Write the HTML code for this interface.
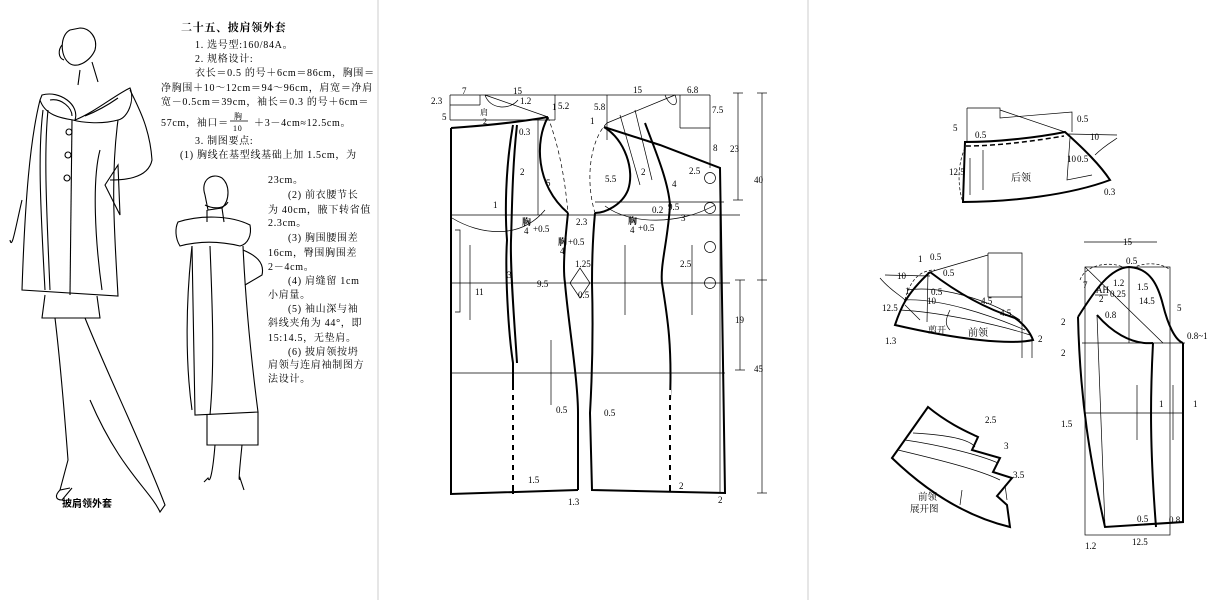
<!DOCTYPE html>
<html><head><meta charset="utf-8"><style>
html,body{margin:0;padding:0;background:#fff;}
svg{display:block}
text{font-family:"Liberation Serif","Noto Serif CJK SC","Noto Sans CJK SC",serif;fill:#000}
.s{font-size:9px}
.t{font-size:10px}
</style></head><body>
<svg width="1230" height="600" viewBox="0 0 1230 600" xmlns="http://www.w3.org/2000/svg">
<rect width="1230" height="600" fill="#fff"/>
<line x1="378" y1="0" x2="378" y2="600" stroke="#ccc" stroke-width="1"/>
<line x1="808" y1="0" x2="808" y2="600" stroke="#ccc" stroke-width="1"/>

<!-- Front figure -->
<g fill="none" stroke="#000" stroke-width="1.1">
<path d="M70,30 C60,35 60,55 68,62 C75,70 90,62 95,50 C98,38 90,28 80,28 Z"/>
<path d="M62,45 C58,50 58,58 64,60"/>
<path d="M80,70 L78,85 M92,62 L98,82"/>
<path d="M42,95 C60,90 80,105 75,120 C95,112 115,95 130,88 C135,100 128,118 118,120 C100,125 80,122 73,120 C60,118 45,115 40,100 Z"/>
<path d="M50,100 C62,98 72,108 72,116 M118,98 C108,105 95,112 85,116"/>
<path d="M40,100 C30,140 25,200 22,290 L118,296 C115,240 110,180 118,120"/>
<path d="M72,120 L70,295"/>
<circle cx="69" cy="132" r="3"/><circle cx="68" cy="155" r="3"/><circle cx="67" cy="178" r="3"/>
<path d="M43,110 C38,150 40,200 45,290 M48,110 C44,150 46,200 50,290"/>
<path d="M100,150 C92,180 95,240 102,290"/>
<path d="M130,90 C140,110 150,130 152,160 C148,180 120,180 110,180"/>
<path d="M105,185 L120,215 L118,165 Z"/>
<path d="M22,200 C15,230 12,250 10,240"/>
<path d="M45,295 L42,318 L100,318 L97,296"/>
<path d="M55,318 C60,360 65,420 68,460 L60,490 L70,488 M85,318 C110,380 140,440 165,505 L160,512 C150,490 120,470 90,400"/>
<path d="M60,490 C55,495 55,500 62,500 L72,488"/>
</g>
<text x="62" y="507" class="t" font-weight="bold" style="font-family:'Noto Sans CJK SC',sans-serif">披肩领外套</text>

<!-- Back figure -->
<g fill="none" stroke="#000" stroke-width="1.1">
<path d="M205,195 C200,180 212,172 222,178 C230,185 230,200 222,208 L208,210 Z"/>
<path d="M205,205 C215,210 225,208 228,202 M207,210 L207,222 M222,208 L224,222"/>
<path d="M178,222 C200,215 230,215 250,225 C252,235 248,244 240,246 C215,240 195,242 180,246 C175,238 175,228 178,222 Z"/>
<path d="M192,246 L195,415 L258,412 C250,350 245,290 243,246"/>
<path d="M210,246 C212,300 215,360 210,415"/>
<path d="M243,250 C255,255 265,262 262,275 L245,285"/>
<path d="M192,246 C186,300 185,360 192,410"/>
<path d="M207,415 L207,445 L258,445 L258,412"/>
<path d="M215,445 C213,470 210,485 208,478 L204,482 M242,445 C240,465 238,485 240,478 L244,490"/>
</g>

<!-- Text block -->
<g style="font-family:'Liberation Serif','Noto Serif CJK SC',serif;letter-spacing:0.7px" font-size="10">
<text x="181" y="31" font-weight="bold" font-size="11">二十五、披肩领外套</text>
<text x="195" y="48">1. 选号型:160/84A。</text>
<text x="195" y="62">2. 规格设计:</text>
<text x="195" y="76">衣长＝0.5 的号＋6cm＝86cm，胸围＝</text>
<text x="161" y="91">净胸围＋10～12cm＝94～96cm，肩宽＝净肩</text>
<text x="161" y="105">宽－0.5cm＝39cm，袖长＝0.3 的号＋6cm＝</text>
<text x="161" y="126">57cm，袖口＝</text>
<text x="234" y="119" font-size="8">胸</text>
<line x1="230" y1="121" x2="248" y2="121" stroke="#000" stroke-width="0.7"/>
<text x="233" y="131" font-size="8">10</text>
<text x="254" y="126">＋3－4cm≈12.5cm。</text>
<text x="195" y="144">3. 制图要点:</text>
<text x="180" y="158">(1) 胸线在基型线基础上加 1.5cm，为</text>
<text x="268" y="183">23cm。</text>
<text x="288" y="198">(2) 前衣腰节长</text>
<text x="268" y="213">为 40cm，腋下转省值</text>
<text x="268" y="226">2.3cm。</text>
<text x="288" y="241">(3) 胸围腰围差</text>
<text x="268" y="256">16cm，臀围胸围差</text>
<text x="268" y="270">2－4cm。</text>
<text x="288" y="284">(4) 肩缝留 1cm</text>
<text x="268" y="298">小肩量。</text>
<text x="288" y="312">(5) 袖山深与袖</text>
<text x="268" y="326">斜线夹角为 44°，即</text>
<text x="268" y="341">15:14.5，无垫肩。</text>
<text x="288" y="355">(6) 披肩领按坍</text>
<text x="268" y="368">肩领与连肩袖制图方</text>
<text x="268" y="382">法设计。</text>
</g>

<!-- Middle panel: body draft -->
<g fill="none" stroke="#000" stroke-width="0.7">
<line x1="450" y1="95" x2="710" y2="95"/>
<line x1="710" y1="95" x2="710" y2="168"/>
<line x1="450" y1="95" x2="450" y2="120"/>
<line x1="450" y1="120" x2="555" y2="120"/>
<line x1="555" y1="95" x2="555" y2="120"/>
<line x1="450" y1="105" x2="480" y2="105"/><line x1="480" y1="95" x2="480" y2="105"/>
<path d="M485,95 L548,117 M485,95 C490,110 510,110 518,100"/>
<line x1="607" y1="95" x2="607" y2="140"/>
<line x1="680" y1="95" x2="680" y2="128"/><line x1="680" y1="128" x2="710" y2="128"/>
<path d="M607,123 L675,95 M665,95 C670,108 680,108 675,95"/>
<path d="M620,115 L640,185 M635,110 L652,180"/>
<line x1="451" y1="215" x2="740" y2="215"/>
<line x1="595" y1="202" x2="724" y2="202"/>
<line x1="451" y1="283" x2="730" y2="283"/>
<line x1="451" y1="373" x2="725" y2="373"/>
<line x1="538" y1="120" x2="538" y2="215"/>
<line x1="720" y1="168" x2="720" y2="492"/>
<line x1="738" y1="93" x2="738" y2="200"/><line x1="733" y1="93" x2="743" y2="93"/><line x1="733" y1="200" x2="743" y2="200"/>
<line x1="762" y1="93" x2="762" y2="493"/><line x1="757" y1="93" x2="767" y2="93"/><line x1="757" y1="493" x2="767" y2="493"/>
<line x1="740" y1="280" x2="740" y2="370"/><line x1="735" y1="280" x2="745" y2="280"/><line x1="735" y1="370" x2="745" y2="370"/>
<line x1="757" y1="280" x2="767" y2="280"/>
<path d="M455,230 L460,230 L460,312 L455,312" />
<line x1="470" y1="245" x2="470" y2="320"/>
<line x1="551" y1="340" x2="551" y2="405"/>
<line x1="625" y1="245" x2="625" y2="315"/>
<line x1="692" y1="245" x2="692" y2="315"/>
<path d="M452,218 C480,235 520,240 545,210" />
<path d="M605,206 C630,225 680,225 715,205"/>
<path d="M548,117 C560,150 565,180 568,213" stroke-dasharray="4,3"/>
<path d="M607,123 C590,140 585,180 595,213" stroke-dasharray="4,3"/>
<circle cx="710" cy="178" r="5.5"/><circle cx="710" cy="208" r="5.5"/><circle cx="710" cy="247" r="5.5"/><circle cx="710" cy="283" r="5.5"/>
<path d="M570,283 L580,268 L590,283 L580,298 Z"/>
</g>
<g fill="none" stroke="#000" stroke-width="2">
<path d="M451,128 C480,126 520,122 548,117"/>
<path d="M548,117 C535,140 535,185 568,213"/>
<path d="M451,128 L451,494 L578,490"/>
<path d="M568,213 C564,250 563,270 565,283 C568,320 578,380 578,413 L578,490"/>
<path d="M513,125 C505,170 505,215 507,240 C505,270 508,330 513,363 L513,494"/>
<path d="M517,125 C512,170 512,215 511,240 C510,270 515,330 517,363"/>
<path d="M604,127 C625,140 635,170 628,190 C622,205 605,213 595,213"/>
<path d="M595,213 C592,245 592,270 592,283 C593,320 593,360 590,413 L592,490 L725,493 L720,168 L660,145 L604,127"/>
<path d="M645,123 C655,150 668,180 670,205 C668,240 660,265 662,283 C668,320 672,347 670,400 L670,492"/>
</g>
<g stroke="#fff" stroke-width="2" stroke-dasharray="5,5"><line x1="513" y1="390" x2="513" y2="490"/><line x1="670" y1="390" x2="670" y2="490"/></g>
<g class="s" font-size="9">
<text x="462" y="94">7</text><text x="513" y="94">15</text><text x="633" y="93">15</text><text x="687" y="93">6.8</text>
<text x="431" y="104">2.3</text><text x="442" y="120">5</text>
<text x="480" y="115" font-size="8">肩</text><text x="483" y="124" font-size="8">2</text>
<text x="520" y="104">1.2</text><text x="552" y="110">1</text><text x="558" y="109">5.2</text>
<text x="519" y="135">0.3</text><text x="594" y="110">5.8</text><text x="590" y="124">1</text>
<text x="712" y="113">7.5</text><text x="713" y="151">8</text><text x="689" y="174">2.5</text>
<text x="730" y="152">23</text><text x="754" y="183">40</text><text x="735" y="323">19</text><text x="754" y="372">45</text>
<text x="520" y="175">2</text><text x="546" y="186">5</text><text x="605" y="182">5.5</text><text x="641" y="175">2</text>
<text x="493" y="208">1</text><text x="672" y="187">4</text><text x="652" y="213">0.2</text><text x="668" y="210">9.5</text><text x="681" y="221">3</text>
<text x="522" y="225" font-weight="bold">胸</text><text x="524" y="234">4</text><text x="533" y="232">+0.5</text>
<text x="558" y="245" font-weight="bold">胸</text><text x="560" y="254">4</text><text x="568" y="245">+0.5</text>
<text x="628" y="224" font-weight="bold">胸</text><text x="630" y="233">4</text><text x="638" y="231">+0.5</text>
<text x="576" y="225">2.3</text>
<text x="507" y="278">3</text><text x="537" y="287">9.5</text><text x="475" y="295">11</text>
<text x="575" y="267">1.25</text><text x="578" y="298">0.5</text><text x="680" y="267">2.5</text>
<text x="556" y="413">0.5</text><text x="604" y="416">0.5</text>
<text x="528" y="483">1.5</text><text x="568" y="505">1.3</text><text x="679" y="489">2</text><text x="718" y="503">2</text>
</g>

<!-- Right panel: back collar -->
<g fill="none" stroke="#000" stroke-width="0.7">
<path d="M967,108 L967,142 M967,108 L1000,108 L1000,118 L1072,112 L1072,132"/>
<path d="M1000,110 L1065,132"/>
<path d="M965,148 C955,170 960,195 963,202" stroke-dasharray="3,2"/>
<path d="M1068,134 L1117,135 M1070,138 L1067,180 L1092,175 M1095,155 C1105,145 1115,140 1117,138"/>
<line x1="983" y1="150" x2="983" y2="190"/><line x1="970" y1="158" x2="970" y2="195"/>
</g>
<g fill="none" stroke="#000" stroke-width="2">
<path d="M965,142 C1000,142 1040,137 1065,132 C1085,150 1100,165 1110,180 C1070,195 1010,202 963,202 Z"/>
</g>
<path d="M966,146 C1000,146 1040,140 1064,136" stroke="#000" stroke-width="1.5" stroke-dasharray="5,3" fill="none"/>
<g class="s">
<text x="953" y="131">5</text><text x="975" y="138">0.5</text><text x="1077" y="122">0.5</text>
<text x="1090" y="140">10</text><text x="1067" y="162">10</text><text x="1077" y="162">0.5</text>
<text x="949" y="175">12.5</text><text x="1104" y="195">0.3</text>
<text x="1011" y="181" font-size="10">后领</text>
</g>

<!-- front collar -->
<g fill="none" stroke="#000" stroke-width="0.7">
<path d="M988,253 L1022,253 L1022,358 M988,253 L988,297 L1022,297 M1032,340 L1032,358"/>
<path d="M930,272 L988,255"/>
<path d="M885,275 L930,276 M880,278 C890,290 900,295 905,300"/>
<path d="M907,290 C940,285 990,300 1020,320"/>
<path d="M904,300 C940,298 990,315 1025,330"/>
<path d="M900,310 C940,312 1000,325 1030,335"/>
<path d="M928,272 L927,322 M905,305 L920,320 M950,310 C945,320 945,325 950,330"/>
<path d="M905,300 C910,280 920,270 935,270" stroke-dasharray="3,2"/>
</g>
<g fill="none" stroke="#000" stroke-width="2">
<path d="M930,272 C960,295 990,310 1015,318 C1025,325 1030,332 1033,340 C1010,345 960,340 895,325 C900,310 905,295 930,272"/>
</g>
<g class="s">
<text x="918" y="262">1</text><text x="930" y="260">0.5</text><text x="943" y="276">0.5</text>
<text x="897" y="279">10</text><text x="931" y="295">0.5</text><text x="905" y="294">1</text>
<text x="927" y="304">10</text><text x="882" y="311">12.5</text><text x="981" y="304">4.5</text><text x="1000" y="316">4.5</text>
<text x="885" y="344">1.3</text><text x="1038" y="342">2</text>
<text x="928" y="333">剪开</text><text x="968" y="336" font-size="10">前领</text>
</g>

<!-- expanded collar -->
<g fill="none" stroke="#000" stroke-width="0.7">
<path d="M913,433 C950,435 970,440 975,447"/>
<path d="M905,440 C940,445 980,455 998,463"/>
<path d="M898,450 C940,460 980,470 1000,480"/>
<path d="M1005,485 L1007,500"/>
<line x1="962" y1="490" x2="960" y2="505"/>
</g>
<g fill="none" stroke="#000" stroke-width="2">
<path d="M892,458 L928,407 C950,425 970,433 978,437 L972,450 L1000,458 L993,472 L1012,478 L997,496 L1007,505 L1010,527 C960,515 920,485 892,458 Z"/>
</g>
<g class="s">
<text x="985" y="423">2.5</text><text x="1004" y="449">3</text><text x="1013" y="478">3.5</text>
<text x="918" y="500" font-size="9.5">前领</text><text x="910" y="512" font-size="9.5">展开图</text>
</g>

<!-- sleeve -->
<g fill="none" stroke="#000" stroke-width="0.7">
<rect x="1085" y="267" width="85" height="268"/>
<line x1="1084" y1="242" x2="1157" y2="242"/>
<line x1="1082" y1="343" x2="1185" y2="343"/>
<line x1="1085" y1="413" x2="1183" y2="413"/>
<line x1="1129" y1="267" x2="1129" y2="343"/>
<path d="M1085,267 L1163,343"/>
<path d="M1080,280 C1085,265 1110,260 1125,268 M1132,268 C1150,260 1165,265 1170,270" stroke-dasharray="3,2"/>
<path d="M1097,315 C1100,400 1103,470 1105,527"/>
<line x1="1137" y1="385" x2="1137" y2="440"/><line x1="1173" y1="385" x2="1173" y2="440"/>
</g>
<g fill="none" stroke="#000" stroke-width="2">
<path d="M1078,317 C1095,290 1110,268 1129,267 C1150,268 1158,285 1163,305 C1168,325 1175,340 1183,343"/>
<path d="M1097,315 C1110,330 1130,345 1153,343"/>
<path d="M1078,317 C1080,400 1090,460 1105,527 L1183,522 L1183,343"/>
<path d="M1153,343 C1150,400 1150,450 1156,527"/>
</g>
<g class="s">
<text x="1123" y="245">15</text><text x="1126" y="264">0.5</text><text x="1083" y="288">7</text>
<text x="1113" y="286">1.2</text><text x="1137" y="290">1.5</text>
<text x="1096" y="293">AH</text><line x1="1095" y1="295" x2="1108" y2="295" stroke="#000" stroke-width="0.7"/><text x="1099" y="302">2</text><text x="1110" y="297">0.25</text>
<text x="1139" y="304">14.5</text><text x="1177" y="311">5</text><text x="1105" y="318">0.8</text>
<text x="1061" y="325">2</text><text x="1061" y="356">2</text><text x="1187" y="339">0.8~1</text>
<text x="1061" y="427">1.5</text><text x="1159" y="407">1</text><text x="1193" y="407">1</text>
<text x="1137" y="522">0.5</text><text x="1169" y="523">0.8</text>
<text x="1085" y="549">1.2</text><text x="1132" y="545">12.5</text>
</g>
</svg>
</body></html>
